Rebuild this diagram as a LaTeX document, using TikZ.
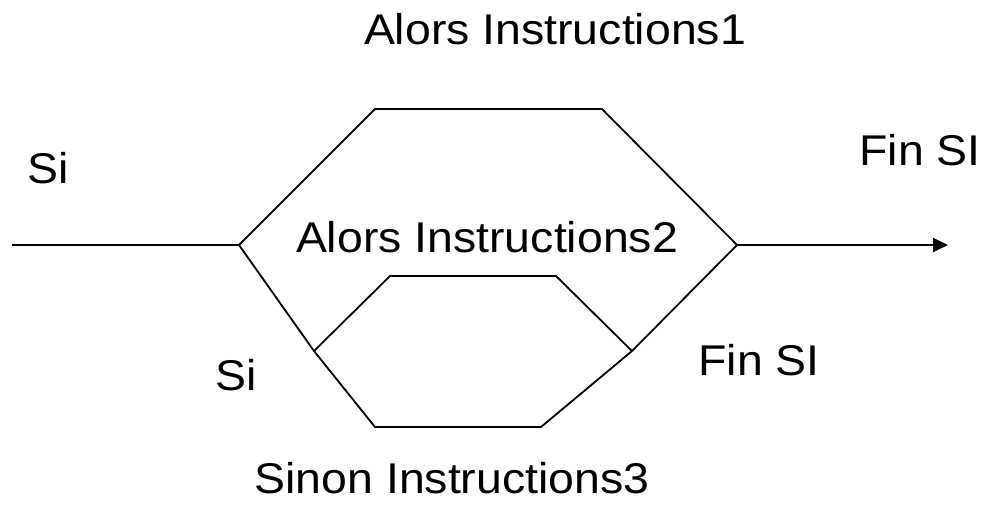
\documentclass[tikz,border=0pt]{standalone}
\usepackage{fontspec}
\setmainfont[FakeStretch=1.08]{Liberation Sans}
\usetikzlibrary{arrows.meta}
\begin{document}
\begin{tikzpicture}[x=1pt, y=-1pt,
  wire/.style={line width=1.8pt},
  flow/.style={wire, -{Triangle[length=15pt, width=14pt]}},
  lbl/.style={anchor=base, inner sep=0pt, font=\fontsize{43}{50}\selectfont}]
\useasboundingbox (0,0) rectangle (986,504);

% corner points of the two nested branches
\coordinate (start) at (12,245);
\coordinate (L)     at (239,245);
\coordinate (TL)    at (375,109);
\coordinate (TR)    at (602,109);
\coordinate (R)     at (737,245);
\coordinate (stop)  at (948,245);
\coordinate (IL)    at (314,351);
\coordinate (ITL)   at (390,276);
\coordinate (ITR)   at (556,276);
\coordinate (IR)    at (632,351);
\coordinate (BL)    at (375,427);
\coordinate (BR)    at (541,427);

% incoming line and the "then" branch of the outer test
\draw[wire] (start) -- (L) -- (TL) -- (TR) -- (R);
% outgoing arrow
\draw[flow] (R) -- (stop);
% "else" branch: the nested test
\draw[wire] (L) -- (IL) -- (BL) -- (BR) -- (IR) -- (R);
% "then" branch of the nested test
\draw[wire] (IL) -- (ITL) -- (ITR) -- (IR);

% labels
\node[lbl] (a1)  at (555,44)  {Alors Instructions1};
\node[lbl] (si1) at (48,183)  {Si};
\node[lbl] (fs1) at (920,165) {Fin SI};
\node[lbl] (a2)  at (487,252) {Alors Instructions2};
\node[lbl] (si2) at (236,390) {Si};
\node[lbl] (fs2) at (759,375) {Fin SI};
\node[lbl] (s3)  at (452,493) {Sinon Instructions3};
\end{tikzpicture}
\end{document}
